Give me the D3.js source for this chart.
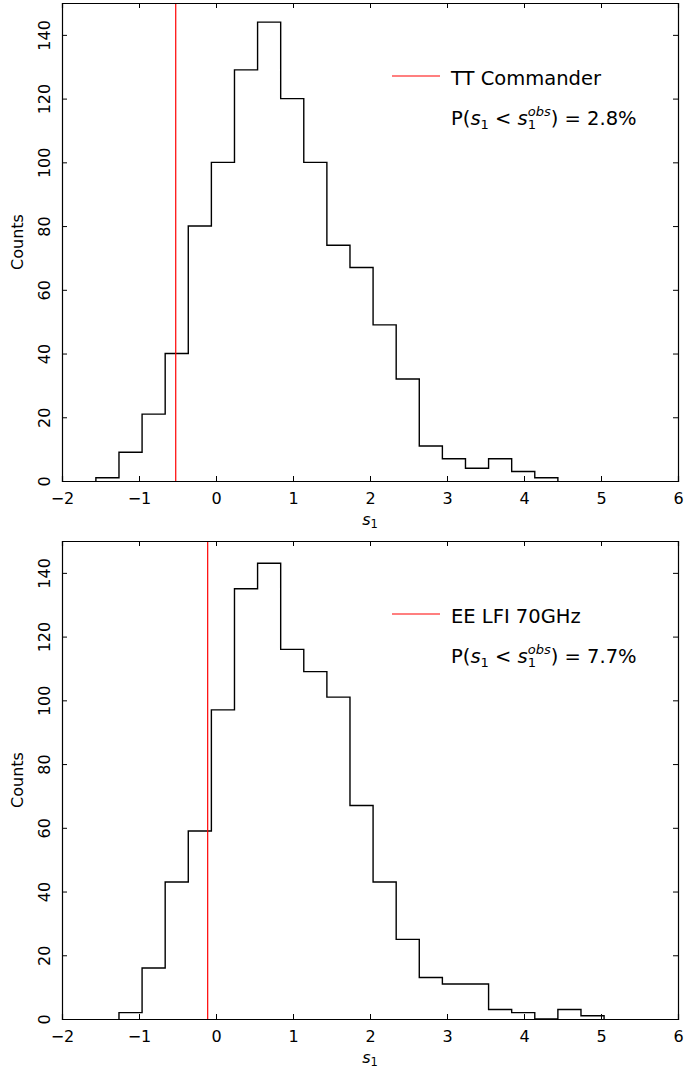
<!DOCTYPE html>
<html>
<head>
<meta charset="utf-8">
<script src="https://cdn.jsdelivr.net/npm/d3@7"></script>
<style>
  html, body { margin: 0; padding: 0; background: #fff; }
  svg { display: block; }
  text { font-family: "DejaVu Sans", sans-serif; fill: #000; }
</style>
</head>
<body>
<svg id="chart" width="684" height="1075"></svg>
<script>
// ---------- data ----------
const xTicks = [-2, -1, 0, 1, 2, 3, 4, 5, 6];
const yTicks = [0, 20, 40, 60, 80, 100, 120, 140];

const ttEdges = [-1.56, -1.26, -0.96, -0.66, -0.36, -0.06, 0.24, 0.54, 0.84, 1.14, 1.44,
                 1.74, 2.04, 2.34, 2.64, 2.94, 3.24, 3.54, 3.84, 4.14, 4.44];
const ttCounts = [1, 9, 21, 40, 80, 100, 129, 144, 120, 100, 74, 67, 49, 32, 11, 7, 4, 7, 3, 1];
const ttObs = -0.523;
const ttLabel = "TT Commander";
const ttProb = "2.8%";

const eeEdges = [-1.26, -0.96, -0.66, -0.36, -0.06, 0.24, 0.54, 0.84, 1.14, 1.44, 1.74,
                 2.04, 2.34, 2.64, 2.94, 3.24, 3.54, 3.84, 4.14, 4.44, 4.74, 5.04];
const eeCounts = [2, 16, 43, 59, 97, 135, 143, 116, 109, 101, 67, 43, 25, 13, 11, 11, 3, 2, 0, 3, 1];
const eeObs = -0.108;
const eeLabel = "EE LFI 70GHz";
const eeProb = "7.7%";

const xDomain = [-2, 6];
const yDomain = [0, 150];

// ---------- drawing ----------
const svg = d3.select("#chart");
const left = 62, right = 678, plotH = 478;
const x = d3.scaleLinear().domain(xDomain).range([left, right]);

function panel(top, edges, counts, obs, label, prob) {
  const bottom = top + plotH;
  const y = d3.scaleLinear().domain(yDomain).range([bottom, top]);
  const g = svg.append("g");

  // histogram step outline
  const pts = [[edges[0], 0]];
  counts.forEach((c, i) => { pts.push([edges[i], c]); pts.push([edges[i + 1], c]); });
  pts.push([edges[edges.length - 1], 0]);
  g.append("path")
    .attr("d", d3.line().x(d => x(d[0])).y(d => y(d[1]))(pts))
    .attr("fill", "none").attr("stroke", "#000").attr("stroke-width", 1.4)
    .attr("stroke-linejoin", "miter");

  // observed value line
  g.append("line")
    .attr("x1", x(obs)).attr("x2", x(obs)).attr("y1", top).attr("y2", bottom)
    .attr("stroke", "#ff0000").attr("stroke-width", 1.2);

  // axes (inward ticks)
  const fmt = d => (d < 0 ? "\u2212" + Math.abs(d) : String(d));
  const axB = g.append("g").attr("transform", `translate(0,${bottom})`)
    .call(d3.axisBottom(x).tickValues(xTicks).tickSize(-5).tickFormat(fmt));
  const axT = g.append("g").attr("transform", `translate(0,${top})`)
    .call(d3.axisTop(x).tickValues(xTicks).tickSize(-5).tickFormat(""));
  const axL = g.append("g").attr("transform", `translate(${left},0)`)
    .call(d3.axisLeft(y).tickValues(yTicks).tickSize(-5).tickFormat(d3.format("d")));
  const axR = g.append("g").attr("transform", `translate(${right},0)`)
    .call(d3.axisRight(y).tickValues(yTicks).tickSize(-5).tickFormat(""));
  [axB, axT, axL, axR].forEach(a => {
    a.select(".domain").attr("stroke", "#000").attr("stroke-width", 1.2);
    a.selectAll(".tick line").attr("stroke", "#000").attr("stroke-width", 1);
  });
  axB.selectAll(".tick text")
    .attr("font-family", "DejaVu Sans").attr("font-size", 16).attr("fill", "#000")
    .attr("dy", null).attr("y", 23);
  axL.selectAll(".tick text")
    .attr("font-family", "DejaVu Sans").attr("font-size", 16).attr("fill", "#000")
    .attr("x", null).attr("dy", null)
    .attr("text-anchor", "middle")
    .attr("transform", "translate(-12,0) rotate(-90)");

  // axis labels
  g.append("text")
    .attr("transform", `translate(22.5,${(top + bottom) / 2}) rotate(-90)`)
    .attr("text-anchor", "middle").attr("font-size", 16).text("Counts");
  const xl = g.append("text")
    .attr("x", (left + right) / 2).attr("y", bottom + 44)
    .attr("text-anchor", "middle").attr("font-size", 16);
  xl.append("tspan").attr("font-style", "italic").text("s");
  xl.append("tspan").attr("font-size", 11.5).attr("dy", 3).text("1");

  // legend
  g.append("line")
    .attr("x1", 392).attr("x2", 440).attr("y1", top + 73).attr("y2", top + 73)
    .attr("stroke", "#ff0000").attr("stroke-width", 1.2);
  g.append("text").attr("x", 451).attr("y", top + 82).attr("font-size", 19.5).text(label);

  const subSize = 13;
  const sub1W = 0.636 * subSize;
  const p = g.append("text").attr("x", 451).attr("y", top + 122).attr("font-size", 19.5);
  p.append("tspan").text("P(");
  p.append("tspan").attr("font-style", "italic").text("s");
  p.append("tspan").attr("font-size", subSize).attr("dy", 4).text("1");
  p.append("tspan").attr("dy", -4).text(" < ");
  p.append("tspan").attr("font-style", "italic").text("s");
  p.append("tspan").attr("font-size", subSize).attr("dy", 4).text("1");
  p.append("tspan").attr("font-size", subSize).attr("font-style", "italic")
    .attr("dx", -sub1W).attr("dy", -13).text("obs");
  p.append("tspan").attr("dy", 9).text(") = " + prob);
}

panel(3, ttEdges, ttCounts, ttObs, ttLabel, ttProb);
panel(541, eeEdges, eeCounts, eeObs, eeLabel, eeProb);
</script>
</body>
</html>
